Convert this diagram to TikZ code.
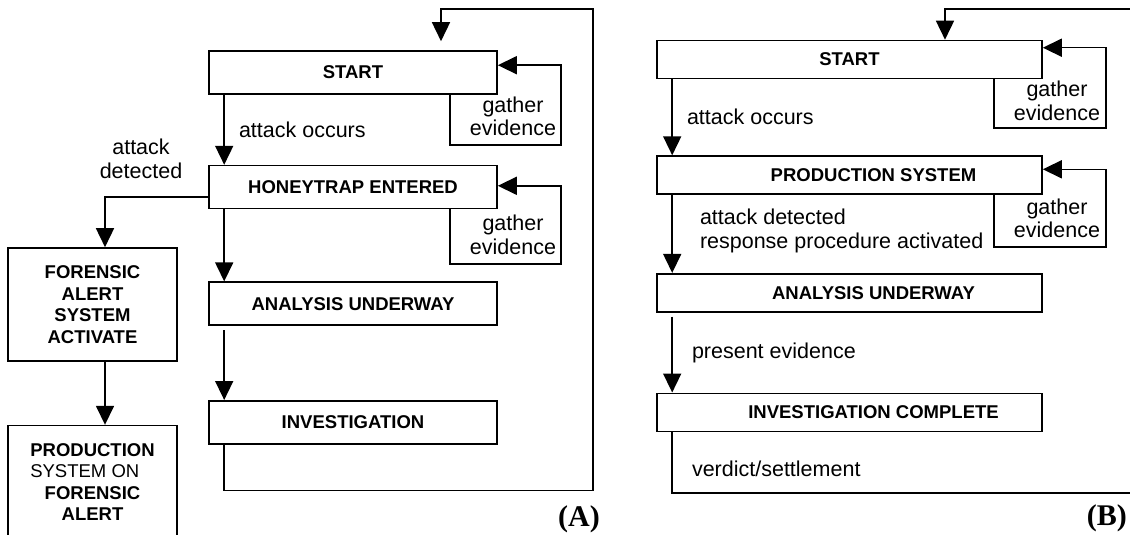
\documentclass[tikz,border=0pt]{standalone}
\usepackage{fontspec}
\setsansfont{Liberation Sans}
\newfontfamily\tagfont{Liberation Serif}
\usetikzlibrary{arrows.meta,positioning}

\begin{document}
\begin{tikzpicture}[x=1pt,y=-1pt]
    \tikzstyle{box}=[rectangle,draw,line width=1.6pt,inner sep=0pt,font=\sffamily\bfseries\fontsize{18.5pt}{21.5pt}\selectfont]
    \tikzstyle{A}=[box,minimum width=288pt,minimum height=43pt]                % left chart
    \tikzstyle{B}=[box,minimum width=385pt,minimum height=38pt]                % right chart
    \tikzstyle{S}=[box,minimum width=169pt,minimum height=113pt,align=center]  % side boxes
    \tikzstyle{note}=[font=\sffamily\fontsize{21.5pt}{23.5pt}\selectfont,inner sep=0pt,align=center]
    \tikzstyle{link}=[line width=1.6pt,-{Triangle[length=19pt,width=18pt]}]
    \tikzstyle{tag}=[font=\tagfont\bfseries\fontsize{30pt}{32pt}\selectfont,inner sep=0pt]

    \useasboundingbox (0,0) rectangle (1130,535);
    \clip (0,0) rectangle (1130,535);

    % chart (A)
    \node[A] (startA) at (353,72.5) {START};
    \node[A] (honeyA) [below=70pt of startA] {HONEYTRAP ENTERED};
    \node[A] (analysisA) [below=72pt of honeyA] {ANALYSIS UNDERWAY};
    \node[A] (investA) [below=74pt of analysisA] {INVESTIGATION};
    \node[S] (forensicA) at (92.5,304.5) {FORENSIC\\ALERT\\SYSTEM\\ACTIVATE};
    \node[S] (prodA) [below=63pt of forensicA] {PRODUCTION\\\makebox[0pt][l]{\mdseries SYSTEM ON}\hphantom{PRODUCTION}\\FORENSIC\\ALERT};

    \coordinate (loopA) at (593,9);
    \coordinate (gA1) at (561,145);
    \coordinate (gA2) at (561,264);

    \draw[link] ([xshift=16pt]startA.south west) -- node[note,right,xshift=14pt]{attack occurs} ([xshift=16pt]honeyA.north west);
    \draw[link] ([xshift=16pt]honeyA.south west) -- ([xshift=16pt]analysisA.north west);
    \draw[link,shorten <=4pt] ([xshift=16pt]analysisA.south west) -- ([xshift=16pt]investA.north west);
    \draw[link,shorten >=9pt] ([xshift=16pt]investA.south west) -- ++(0,46) -| (loopA) -| ([xshift=88pt]startA.north);
    \draw[link] ([yshift=-10pt]honeyA.west) -| ([xshift=12.5pt]forensicA.north);
    \draw[link] ([xshift=12.5pt]forensicA.south) -- ([xshift=12.5pt]prodA.north);
    \draw[link] ([xshift=-48pt]startA.south east) |- (gA1) |- ([yshift=-15pt]startA.north east);
    \draw[link] ([xshift=-48pt]honeyA.south east) |- (gA2) |- ([yshift=-21pt]honeyA.north east);

    \node[note] (detA) at (141,159) {attack\\detected};
    \node[note] (evA1) at (513,116.5) {gather\\evidence};
    \node[note] (evA2) at (513,235) {gather\\evidence};
    \node[tag,anchor=east] (tagA) at (600,519) {(A)};

    % chart (B)
    \node[B] (startB) at (849.5,59.5) {START};
    \node[B] (prodB) [below=76pt of startB] {\hspace*{48pt}PRODUCTION SYSTEM};
    \node[B] (analysisB) [below=78pt of prodB] {\hspace*{48pt}ANALYSIS UNDERWAY};
    \node[B] (investB) [below=80pt of analysisB] {\hspace*{48pt}INVESTIGATION COMPLETE};

    \coordinate (loopB) at (1140,9);
    \coordinate (gB1) at (1106,128);
    \coordinate (gB2) at (1106,247);

    \draw[link] ([xshift=16pt]startB.south west) -- node[note,right,xshift=14pt]{attack occurs} ([xshift=16pt]prodB.north west);
    \draw[link] ([xshift=16pt]prodB.south west) -- node[note,right,align=left,xshift=27pt,yshift=3pt]{attack detected\\response procedure activated} ([xshift=16pt]analysisB.north west);
    \draw[link,shorten <=4pt] ([xshift=16pt]analysisB.south west) -- node[note,right,xshift=19pt]{present evidence} ([xshift=16pt]investB.north west);
    \draw[link] ([xshift=16pt]investB.south west) -- ++(0,61) node[note,right,pos=0.6,xshift=19pt]{verdict/settlement} -| (loopB) -| ([xshift=95.5pt]startB.north);
    \draw[link] ([xshift=-49pt]startB.south east) |- (gB1) |- ([yshift=-8pt]startB.north east);
    \draw[link] ([xshift=-49pt]prodB.south east) |- (gB2) |- ([yshift=-14pt]prodB.north east);

    \node[note] (evB1) at (1057,101) {gather\\evidence};
    \node[note] (evB2) at (1057,218.5) {gather\\evidence};
    \node[tag,anchor=east] (tagB) at (1127,518) {(B)};
\end{tikzpicture}
\end{document}
